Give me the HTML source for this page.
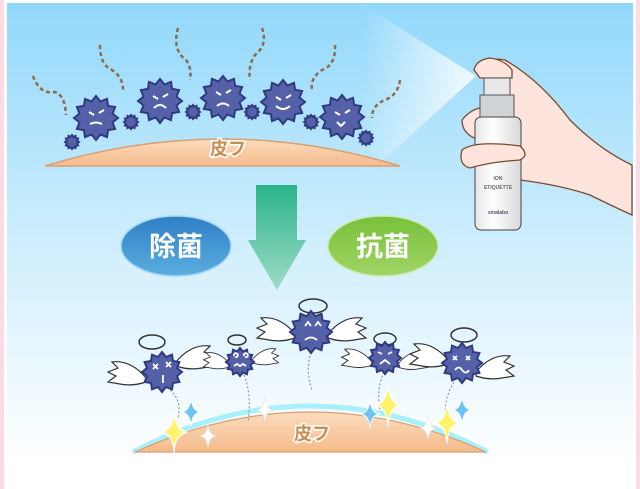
<!DOCTYPE html>
<html><head><meta charset="utf-8"><style>
html,body{margin:0;padding:0;background:#fff;}
svg{display:block;}
text{font-family:"Liberation Sans","Noto Sans CJK JP",sans-serif;font-weight:bold;}
</style></head><body>
<svg width="640" height="489" viewBox="0 0 640 489" xmlns="http://www.w3.org/2000/svg">
<defs>
<linearGradient id="bg" x1="0" y1="0" x2="0" y2="1">
<stop offset="0" stop-color="#92d8fb"/><stop offset="0.55" stop-color="#d2effd"/><stop offset="1" stop-color="#ffffff"/></linearGradient>
<linearGradient id="skin" x1="0" y1="0" x2="0" y2="1"><stop offset="0" stop-color="#fbdcbd"/><stop offset="1" stop-color="#f5bb8c"/></linearGradient>
<linearGradient id="arr" x1="0" y1="0" x2="0" y2="1"><stop offset="0" stop-color="#2bb38a"/><stop offset="1" stop-color="#9fdcc6"/></linearGradient>
<linearGradient id="blu" x1="0" y1="0" x2="0" y2="1"><stop offset="0" stop-color="#2f7fc6"/><stop offset="1" stop-color="#5aaedf"/></linearGradient>
<linearGradient id="grn" x1="0" y1="0" x2="0" y2="1"><stop offset="0" stop-color="#78c03a"/><stop offset="1" stop-color="#9fd565"/></linearGradient>
<linearGradient id="cone" x1="1" y1="0" x2="0" y2="0"><stop offset="0" stop-color="#fff" stop-opacity="0.85"/><stop offset="1" stop-color="#fff" stop-opacity="0"/></linearGradient>
<linearGradient id="btl" x1="0" y1="0" x2="1" y2="0"><stop offset="0" stop-color="#e6e6e6"/><stop offset="0.4" stop-color="#ffffff"/><stop offset="1" stop-color="#d8d8d8"/></linearGradient>
<polygon id="st" points="100,0 75,20 87,50 55,55 50,87 20,75 0,100 -20,75 -50,87 -55,55 -87,50 -75,20 -100,0 -75,-20 -87,-50 -55,-55 -50,-87 -20,-75 0,-100 20,-75 50,-87 55,-55 87,-50 75,-20" fill="#5460a8" stroke="#2f3a80" stroke-width="2" vector-effect="non-scaling-stroke"/>
<g id="wingL"><path d="M0,0 C-8,-10 -20,-18 -34,-16 L-28,-10 L-38,-6 L-30,-2 L-38,4 L-26,6 C-16,8 -6,6 0,4Z" fill="#fff" stroke="#333" stroke-width="1.2"/></g>
<g id="sp"><path d="M0,-12 Q1,-1 12,0 Q1,1 0,12 Q-1,1 -12,0 Q-1,-1 0,-12Z"/></g>
</defs>
<rect x="0" y="0" width="640" height="489" fill="#fff"/>
<rect x="0" y="0" width="4" height="489" fill="#fddbe5"/>
<rect x="636" y="0" width="4" height="489" fill="#fddbe5"/>
<rect x="7" y="3" width="626" height="460" fill="url(#bg)"/>

<polygon points="476,76 362,4 362,180" fill="url(#cone)"/>

<g fill="none" stroke="#8b6c4c" stroke-width="2.5" stroke-dasharray="4,3">
<path d="M33,76 Q40,95 55,92 Q65,95 66,115"/>
<path d="M100,45 Q100,65 112,70 Q124,78 123,92"/>
<path d="M178,28 Q172,50 186,60 Q192,68 190,80"/>
<path d="M262,28 Q268,45 255,55 Q248,65 250,80"/>
<path d="M335,45 Q336,65 322,70 Q310,78 312,90"/>
<path d="M400,80 Q398,95 385,100 Q372,105 372,118"/>
</g>

<path d="M45,166 Q222,112 400,166Z" fill="url(#skin)" stroke="#d9a070" stroke-width="1.5"/>
<text x="228" y="155" font-size="18" fill="#c49055" stroke="#fff" stroke-width="3" paint-order="stroke" text-anchor="middle">皮フ</text>

<use href="#st" transform="translate(72,142) scale(0.07)"/>
<use href="#st" transform="translate(131,122) scale(0.07)"/>
<use href="#st" transform="translate(193,112) scale(0.07)"/>
<use href="#st" transform="translate(252,112) scale(0.07)"/>
<use href="#st" transform="translate(311,122) scale(0.07)"/>
<use href="#st" transform="translate(366,138) scale(0.07)"/>
<use href="#st" transform="translate(96,118) scale(0.22)"/>
<use href="#st" transform="translate(160,101) scale(0.22)"/>
<use href="#st" transform="translate(223,98) scale(0.22)"/>
<use href="#st" transform="translate(283,102) scale(0.22)"/>
<use href="#st" transform="translate(342,117) scale(0.22)"/>
<g stroke="#fff" stroke-width="2" fill="none">
<path d="M89,112 l5,3 M104,110 l-5,3 M90,124 q6,-3 12,0"/>
<path d="M153,96 l5,3 M168,94 l-5,3 M154,108 q6,-6 12,0"/>
<path d="M216,92 l5,3 M231,90 l-5,3 M217,106 q6,-5 12,0"/>
<path d="M276,97 l5,3 M291,95 l-5,3 M276,106 q7,6 14,0"/>
<path d="M335,112 l5,3 M350,110 l-5,3 M337,122 l4,4 l4,-4"/>
</g>

<!-- hand & bottle -->
<path d="M478,70 Q485,56 505,60 Q540,80 570,120 Q600,150 632,165 L632,215 Q610,205 590,195 Q560,185 520,180 L520,150 Q505,135 480,140 Q462,135 462,120 Q470,110 480,108 L490,80 Z" fill="#fde4dc" stroke="#7a4a30" stroke-width="1.3"/>
<path d="M474,70 Q476,60 490,58 Q505,60 512,70 L512,78 L480,78 Z" fill="#fde4dc" stroke="#7a4a30" stroke-width="1.3"/>
<rect x="484" y="78" width="26" height="20" fill="#e8e8e8" stroke="#555"/>
<rect x="480" y="95" width="34" height="22" fill="#cfd3d6" stroke="#555"/>
<rect x="475" y="117" width="46" height="113" rx="6" fill="url(#btl)" stroke="#444"/>
<path d="M462,150 Q475,140 520,146 Q530,155 520,160 Q490,162 470,168 Q458,165 462,150Z" fill="#fde4dc" stroke="#7a4a30" stroke-width="1.3"/>
<text x="498" y="180" font-size="5" fill="#666" text-anchor="middle" font-weight="normal">ION</text>
<text x="498" y="189" font-size="5" fill="#666" text-anchor="middle" font-weight="normal">ETIQUETTE</text>
<text x="498" y="214" font-size="5" fill="#557" text-anchor="middle" font-weight="normal">smalabo</text>

<path d="M256,185 L297,185 L297,240 L306,240 L277,290 L248,240 L256,240Z" fill="url(#arr)"/>

<ellipse cx="176" cy="246" rx="55" ry="30" fill="url(#blu)" stroke="#a8d6f0" stroke-width="1.5"/>
<text x="176" y="256" font-size="27" fill="#fff" text-anchor="middle">除菌</text>
<ellipse cx="383" cy="246" rx="55" ry="30" fill="url(#grn)" stroke="#cde9b0" stroke-width="1.5"/>
<text x="383" y="256" font-size="27" fill="#fff" text-anchor="middle">抗菌</text>

<path d="M133,452 Q310,360 488,452" fill="none" stroke="#a8f0fb" stroke-width="5"/>
<path d="M135,452 Q310,372 486,452Z" fill="url(#skin)" stroke="#d9a070" stroke-width="1.2"/>
<text x="312" y="440" font-size="18" fill="#c49055" stroke="#fff" stroke-width="3" paint-order="stroke" text-anchor="middle">皮フ</text>

<g fill="none" stroke="#999" stroke-width="1.2" stroke-dasharray="2,2">
<path d="M170,390 Q182,400 178,418"/><path d="M244,375 Q252,395 248,422"/>
<path d="M311,352 Q305,370 312,390"/><path d="M384,372 Q376,390 380,410"/><path d="M454,382 Q443,400 446,420"/>
</g>

<g>
<use href="#wingL" transform="translate(146,378)"/>
<use href="#wingL" transform="translate(176,362) scale(-1,1)"/>
<ellipse cx="152" cy="342" rx="13" ry="7" fill="none" stroke="#333" stroke-width="1.5"/>
<use href="#st" transform="translate(162,372) scale(0.2)"/>
<use href="#wingL" transform="translate(230,364) scale(0.7)"/>
<use href="#wingL" transform="translate(252,360) scale(-0.7,0.7)"/>
<ellipse cx="237" cy="340" rx="9" ry="5" fill="none" stroke="#333" stroke-width="1.5"/>
<use href="#st" transform="translate(240,362) scale(0.14)"/>
<use href="#wingL" transform="translate(295,334)"/>
<use href="#wingL" transform="translate(328,334) scale(-1,1)"/>
<ellipse cx="313" cy="306" rx="14" ry="7" fill="none" stroke="#333" stroke-width="1.5"/>
<use href="#st" transform="translate(311,332) scale(0.21)"/>
<use href="#wingL" transform="translate(372,362) scale(0.8)"/>
<use href="#wingL" transform="translate(398,364) scale(-0.8,0.8)"/>
<ellipse cx="385" cy="339" rx="11" ry="6" fill="none" stroke="#333" stroke-width="1.5"/>
<use href="#st" transform="translate(385,358) scale(0.16)"/>
<use href="#wingL" transform="translate(448,360)"/>
<use href="#wingL" transform="translate(476,372) scale(-1,1)"/>
<ellipse cx="464" cy="335" rx="13" ry="7" fill="none" stroke="#333" stroke-width="1.5"/>
<use href="#st" transform="translate(462,363) scale(0.2)"/>
</g>
<g stroke="#fff" stroke-width="1.8" fill="none">
<path d="M153,364 l5,5 M158,364 l-5,5 M166,362 l5,5 M171,362 l-5,5 M163,375 v8"/>
<path d="M305,326 l3,-4 l3,4 M315,326 l3,-4 l3,4 M305,340 q6,-5 12,0"/>
<path d="M234,356 a2,2 0 1 1 1,1 M244,356 a2,2 0 1 1 1,1 M234,366 l3,-2 l3,2 l3,-2 l3,2"/>
<path d="M378,352 l4,2 M392,352 l-4,2 M380,364 l5,-4 l5,4"/>
<path d="M453,356 l4,4 M457,356 l-4,4 M466,356 l4,4 M470,356 l-4,4 M455,370 q4,-5 7,0 q4,5 7,0"/>
</g>

<g fill="#fff36a" stroke="#fff" stroke-width="1">
<use href="#sp" transform="translate(174,432) scale(1.1,1.7)"/>
<use href="#sp" transform="translate(388,405) scale(1.1,1.8)"/>
<use href="#sp" transform="translate(447,423) scale(1.1,1.7)"/>
</g>
<g fill="#6cc4f4" stroke="#fff" stroke-width="1">
<use href="#sp" transform="translate(191,412) scale(0.8,1.2)"/>
<use href="#sp" transform="translate(370,414) scale(0.8,1.2)"/>
<use href="#sp" transform="translate(462,410) scale(0.8,1.2)"/>
</g>
<g fill="#fff" stroke="#e8d8d8" stroke-width="0.5">
<use href="#sp" transform="translate(208,436) scale(0.7,1.1)"/>
<use href="#sp" transform="translate(265,410) scale(0.7,1.1)"/>
<use href="#sp" transform="translate(428,428) scale(0.7,1.1)"/>
</g>
</svg>
</body></html>
